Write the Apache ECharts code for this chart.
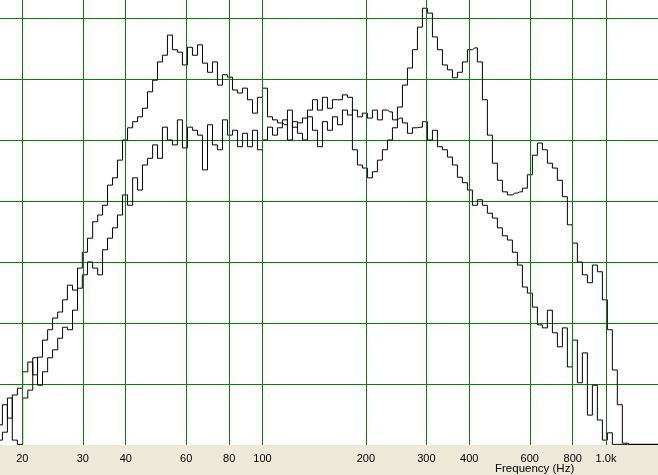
<!DOCTYPE html>
<html>
<head>
<meta charset="utf-8">
<script src="https://cdn.jsdelivr.net/npm/echarts@6/dist/echarts.min.js"></script>
<style>
html,body{margin:0;padding:0;background:#ECE9D8;}
#chart{width:658px;height:475px;}
</style>
</head>
<body>
<div id="chart"></div>
<script>
// Frequency (Hz) of each sample
var freqs = [17.2,17.8,18.4,19.0,19.7,20.4,21.1,21.8,22.5,23.3,24.1,24.9,25.8,26.6,27.5,28.5,29.4,30.4,31.5,32.6,
33.7,34.8,36.0,37.2,38.5,39.8,41.2,42.6,44.0,45.5,47.1,48.7,50.3,52.0,53.8,55.6,57.5,59.5,61.5,63.6,
65.8,68.0,70.4,72.7,75.2,77.8,80.4,83.2,86.0,88.9,92.0,95.1,98.3,101.7,105.2,108.8,112.4,116.3,120.2,124.3,
128.6,133.0,137.5,142.2,147.0,152.0,157.2,162.6,168.1,173.8,179.7,185.8,192.2,198.7,205.5,212.5,219.7,227.2,235.0,243.0,
251.3,259.9,268.7,277.9,287.3,297.1,307.2,317.7,328.5,339.7,351.3,363.3,375.6,388.4,401.6,415.3,429.5,444.1,459.2,474.9,
491.0,507.8,525.1,543.0,561.5,580.6,600.4,620.9,642.0,663.9,686.5,709.9,734.1,759.1,785.0,811.7,839.4,868.0,897.6,928.2,
959.8,992.5,1026,1061,1097,1135,1173,1255,1342,1417];

// Level (dB) of trace A
var levelA = [-66.7,-63.4,-65.6,-61.8,-60.7,-58.0,-56.4,-58.5,-55.6,-52.8,-51.1,-49.2,-48.2,-46.2,-43.8,-44.6,-41.0,-38.4,-36.1,-33.4,
-32.3,-30.7,-27.4,-26.2,-23.3,-20.0,-18.0,-17.0,-16.2,-14.8,-12.1,-10.2,-7.2,-6.1,-2.8,-5.2,-5.6,-7.7,-4.8,-6.1,
-4.4,-7.4,-8.9,-7.2,-11.0,-9.3,-9.7,-11.8,-12.3,-11.5,-13.4,-15.6,-13.0,-11.5,-16.2,-16.7,-17.2,-17.5,-15.1,-17.9,
-17.2,-16.4,-15.1,-13.4,-15.1,-13.0,-14.8,-13.4,-13.4,-12.6,-13.0,-21.6,-24.1,-24.6,-26.2,-25.2,-23.3,-21.6,-20.0,-18.0,
-14.6,-11.0,-8.2,-5.2,-1.5,1.6,0.8,-3.1,-5.2,-7.7,-8.5,-9.8,-8.9,-7.2,-5.2,-4.9,-7.2,-13.4,-19.2,-23.8,
-26.6,-28.5,-29.0,-28.7,-28.5,-27.9,-25.7,-22.5,-20.5,-21.6,-23.8,-24.6,-26.6,-29.3,-33.9,-36.9,-40.0,-42.1,-43.4,-40.5,
-41.6,-46.2,-51.1,-57.7,-63.4,-69.7,-69.9,-69.9,-69.9,-69.9];

// Level (dB) of trace B
var levelB = [-69.2,-67.9,-62.3,-69.2,-69.9,-62.3,-61.0,-55.7,-60.2,-58.0,-55.7,-54.4,-52.5,-50.7,-51.1,-47.9,-44.3,-42.1,-40.0,-41.0,
-42.1,-38.0,-36.1,-34.4,-32.3,-29.0,-30.7,-26.2,-28.2,-24.1,-23.0,-20.8,-23.0,-17.9,-20.0,-20.8,-16.7,-21.3,-17.9,-18.4,
-19.2,-24.9,-17.5,-20.8,-21.6,-16.7,-19.2,-18.4,-21.1,-18.9,-21.1,-18.4,-21.6,-20.0,-17.9,-19.2,-18.0,-16.7,-20.0,-17.0,
-18.9,-20.0,-16.2,-18.4,-21.1,-17.0,-18.4,-16.2,-17.5,-15.1,-15.9,-15.1,-16.2,-15.6,-16.4,-15.1,-16.7,-15.1,-15.4,-16.7,
-16.4,-17.2,-18.9,-18.0,-17.9,-17.0,-20.0,-18.4,-21.1,-21.6,-22.8,-24.1,-26.1,-27.0,-28.2,-30.7,-29.8,-30.7,-32.0,-32.8,
-34.4,-35.7,-36.4,-38.4,-40.5,-44.1,-45.1,-47.4,-50.3,-50.8,-47.9,-51.6,-53.9,-50.8,-57.2,-52.8,-59.8,-54.9,-65.1,-60.2,
-65.9,-69.2,-68.0,-69.9,-69.9,-69.9,-69.9,-69.9,-69.9,-69.9];

// Axis ranges and grid
var freqMin = 17.22, freqMax = 1417;
var levelMin = -70, levelMax = 2.95, levelStep = 10;
var tickFreqs = [20,30,40,60,80,100,200,300,400,600,800,1000];
var tickLabels = ['20','30','40','60','80','100','200','300','400','600','800','1.0k'];
var minorFreqs = [50,70,90,500,700,900];

var GREEN = '#0A7D0A';

function pairs(a, b) {
  var out = [];
  for (var i = 0; i < a.length; i++) out.push([a[i], b[i]]);
  return out;
}

var markData = [];
tickFreqs.forEach(function (f, i) {
  markData.push([{ coord: [f, levelMin], name: tickLabels[i] }, { coord: [f, levelMax] }]);
});
minorFreqs.forEach(function (f) {
  markData.push([{ coord: [f, levelMin - 1.15], name: '' }, { coord: [f, levelMax] }]);
});

var chart = echarts.init(document.getElementById('chart'), null, { renderer: 'canvas' });
chart.setOption({
  animation: false,
  backgroundColor: '#ECE9D8',
  title: {
    text: 'Frequency (Hz)',
    left: 495, top: 463,
    padding: 0,
    textStyle: { fontFamily: 'Liberation Sans', fontSize: 11.5, fontWeight: 'normal', color: '#000' }
  },
  grid: { left: 0, right: 0, top: 0, bottom: 30, show: true, backgroundColor: '#ffffff', borderWidth: 0 },
  xAxis: {
    type: 'log', min: freqMin, max: freqMax, logBase: 10,
    axisLine: { show: true, lineStyle: { color: GREEN, width: 1 } },
    axisTick: { show: false }, axisLabel: { show: false }, splitLine: { show: false }
  },
  yAxis: {
    type: 'value', min: levelMin, max: levelMax, interval: levelStep,
    axisLine: { show: false }, axisTick: { show: false }, axisLabel: { show: false },
    splitLine: {
      show: true, showMinLine: false, showMaxLine: false,
      lineStyle: { color: [GREEN, GREEN, GREEN, GREEN, GREEN, GREEN, 'rgba(0,0,0,0)'], width: 1 }
    }
  },
  series: [
    {
      type: 'line', data: [], clip: false, z: 1, silent: true,
      markLine: {
        silent: true, symbol: ['none', 'none'], animation: false,
        lineStyle: { color: GREEN, width: 1, type: 'solid' },
        label: {
          show: true, position: 'start', distance: 8,
          fontFamily: 'Liberation Sans', fontSize: 11, color: '#000',
          formatter: function (p) { return p.name; }
        },
        emphasis: { disabled: true },
        data: markData
      }
    },
    {
      name: 'A', type: 'line', step: 'middle', showSymbol: false, symbol: 'none', z: 3,
      lineStyle: { color: '#000', width: 1 }, data: pairs(freqs, levelA)
    },
    {
      name: 'B', type: 'line', step: 'middle', showSymbol: false, symbol: 'none', z: 3,
      lineStyle: { color: '#000', width: 1 }, data: pairs(freqs, levelB)
    }
  ]
});
</script>
</body>
</html>
